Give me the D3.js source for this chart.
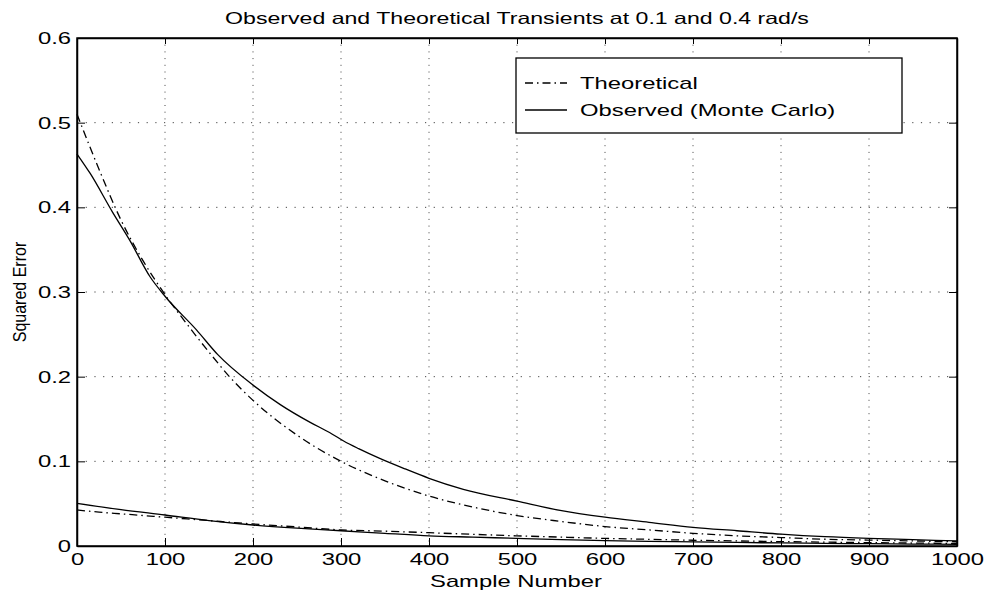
<!DOCTYPE html>
<html>
<head>
<meta charset="utf-8">
<script src="https://cdn.jsdelivr.net/npm/d3@7"></script>
<style>
  body { margin: 0; background: #fff; }
  text { font-family: "Liberation Sans", Arial, sans-serif; fill: #000; }
</style>
</head>
<body>
<div id="chart"></div>
<script>
// theoretical curves
var theoryX = [0,25,50,75,100,125,150,175,200,250,300,350,400,450,500,550,600,650,700,750,800,850,900,950,1000];
var theoryUpper = [0.510,0.445,0.385,0.337,0.297,0.262,0.229,0.198,0.172,0.131,0.100,0.077,0.059,0.046,0.036,0.029,0.023,0.019,0.015,0.012,0.010,0.008,0.007,0.006,0.005];
var theoryLower = [0.0425,0.040,0.038,0.036,0.034,0.032,0.030,0.028,0.026,0.0225,0.019,0.0175,0.0157,0.0138,0.012,0.0105,0.009,0.0079,0.0068,0.006,0.0052,0.0046,0.004,0.0035,0.003];

// monte carlo runs
var obsUpperX = [0,15,40,60,83,100,136,160,200,231,265,287,303,320,344,373,400,439,500,549,600,650,700,750,800,850,900,950,1000];
var obsUpper = [0.463,0.440,0.395,0.361,0.318,0.295,0.255,0.226,0.190,0.167,0.146,0.134,0.124,0.115,0.1035,0.091,0.080,0.067,0.053,0.042,0.034,0.028,0.022,0.018,0.014,0.011,0.009,0.0075,0.006];
var obsLowerX = [0,50,100,150,200,250,300,350,400,450,500,550,600,650,700,750,800,850,900,950,1000];
var obsLower = [0.0504,0.043,0.0366,0.030,0.0248,0.021,0.018,0.015,0.012,0.0105,0.009,0.0075,0.0063,0.0055,0.0048,0.0042,0.0036,0.0031,0.0027,0.0023,0.002];

var xTicks = [0,100,200,300,400,500,600,700,800,900,1000];
var yTicks = [0,0.1,0.2,0.3,0.4,0.5,0.6];
var legendLabels = ["Theoretical", "Observed (Monte Carlo)"];

var W = 987, H = 594;
var m = {left: 77, top: 38, right: 30, bottom: 48};
var w = W - m.left - m.right, h = H - m.top - m.bottom;
var stretch = 1.4;
var dashDot = "8,4,1.5,4";

var svg = d3.select("#chart").append("svg")
    .attr("width", W).attr("height", H);
var g = svg.append("g").attr("transform", "translate(" + m.left + "," + m.top + ")");

var x = d3.scaleLinear().domain([0, 1000]).range([0, w]);
var y = d3.scaleLinear().domain([0, 0.6]).range([h, 0]);

// grid
g.append("g").selectAll("line").data(yTicks.slice(1, -1)).join("line")
    .attr("x1", 0).attr("x2", w)
    .attr("y1", d => y(d)).attr("y2", d => y(d))
    .attr("stroke", "#444").attr("stroke-width", 1)
    .attr("stroke-dasharray", "1.2,7.5");
g.append("g").selectAll("line").data(xTicks.slice(1, -1)).join("line")
    .attr("y1", 0).attr("y2", h)
    .attr("x1", d => x(d)).attr("x2", d => x(d))
    .attr("stroke", "#444").attr("stroke-width", 1)
    .attr("stroke-dasharray", "1,5.7");

// axes, ticks inward
var fmtY = d => d === 0 ? "0" : d3.format(".1f")(d);
var xa = g.append("g").attr("transform", "translate(0," + h + ")")
    .call(d3.axisBottom(x).tickValues(xTicks).tickFormat(d3.format("d"))
      .tickSizeInner(-8).tickSizeOuter(0).tickPadding(7));
var ya = g.append("g")
    .call(d3.axisLeft(y).tickValues(yTicks).tickFormat(fmtY).tickSizeInner(-8).tickSizeOuter(0).tickPadding(6));
g.append("g").call(d3.axisTop(x).tickValues(xTicks).tickSizeInner(-6).tickSizeOuter(0).tickFormat(""));
g.append("g").attr("transform", "translate(" + w + ",0)")
    .call(d3.axisRight(y).tickValues(yTicks).tickSizeInner(-8).tickSizeOuter(0).tickFormat(""));
g.selectAll(".domain").attr("stroke", "#000").attr("stroke-width", 1.5);
g.selectAll(".tick line").attr("stroke", "#000");
g.selectAll(".tick text").attr("font-size", 17).attr("fill", "#000")
    .style("font-family", "'Liberation Sans', Arial, sans-serif");
g.append("rect").attr("width", w).attr("height", h)
    .attr("fill", "none").attr("stroke", "#000").attr("stroke-width", 1.5);

// curves
var line = d3.line().x(d => x(d[0])).y(d => y(d[1])).curve(d3.curveMonotoneX);
var series = [
  {xs: theoryX, ys: theoryUpper, dash: dashDot},
  {xs: theoryX, ys: theoryLower, dash: dashDot},
  {xs: obsUpperX, ys: obsUpper, dash: null},
  {xs: obsLowerX, ys: obsLower, dash: null}
];
series.forEach(function(s) {
  g.append("path")
    .datum(d3.zip(s.xs, s.ys))
    .attr("d", line)
    .attr("fill", "none")
    .attr("stroke", "#000")
    .attr("stroke-width", 1.3)
    .attr("stroke-dasharray", s.dash);
});

// legend
var lg = svg.append("g");
lg.append("rect").attr("x", 516).attr("y", 58).attr("width", 386).attr("height", 75)
    .attr("fill", "#fff").attr("stroke", "#000").attr("stroke-width", 1.3);
legendLabels.forEach(function(t, i) {
  var cy = 83 + i * 27;
  lg.append("line").attr("x1", 525).attr("x2", 567).attr("y1", cy).attr("y2", cy)
    .attr("stroke", "#000").attr("stroke-width", 1.3)
    .attr("stroke-dasharray", i === 0 ? dashDot : null);
  lg.append("text").attr("x", 580).attr("y", cy + 6).attr("font-size", 17).text(t);
});

// title and labels
svg.append("text").attr("class", "title").attr("x", 517).attr("y", 24)
    .attr("text-anchor", "middle").attr("font-size", 16.5)
    .text("Observed and Theoretical Transients at 0.1 and 0.4 rad/s");
svg.append("text").attr("x", 516).attr("y", 587)
    .attr("text-anchor", "middle").attr("font-size", 17)
    .text("Sample Number");

// widen all horizontal text like the original
svg.selectAll("text").each(function() {
  var len = this.getComputedTextLength();
  if (len > 0) d3.select(this).attr("textLength", len * stretch).attr("lengthAdjust", "spacingAndGlyphs");
});

svg.append("text")
    .attr("transform", "translate(26,292) rotate(-90) scale(1,1.15)")
    .attr("text-anchor", "middle").attr("font-size", 16)
    .text("Squared Error");
</script>
</body>
</html>
